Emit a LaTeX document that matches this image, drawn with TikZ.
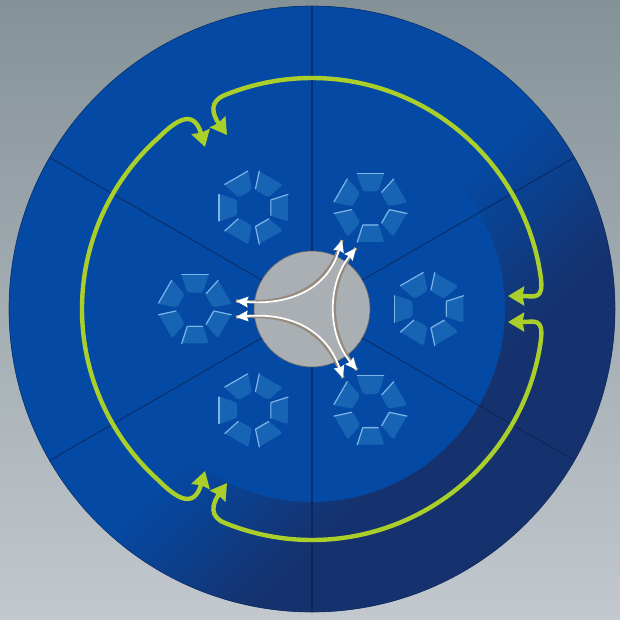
\documentclass[tikz,border=0pt]{standalone}
\usepackage{xcolor}
\usetikzlibrary{arrows.meta,positioning}
\usetikzlibrary{calc}

\definecolor{backtop}{RGB}{132,146,152}
\definecolor{backbottom}{RGB}{194,200,205}
\definecolor{diskblue}{RGB}{4,74,164}
\definecolor{ringdark}{RGB}{22,50,110}
\definecolor{spokedark}{RGB}{10,30,75}
\definecolor{padblue}{RGB}{24,100,180}
\definecolor{padhigh}{RGB}{125,180,232}
\definecolor{hubgray}{RGB}{170,175,180}
\definecolor{limegreen}{RGB}{170,207,42}
\definecolor{whiteedge}{RGB}{150,140,125}

\pgfdeclareverticalshading{ringshade}{100bp}{color(0bp)=(ringdark); color(36bp)=(ringdark); color(49bp)=(diskblue); color(100bp)=(diskblue)}

\newcommand{\padshape}[1]{\fill[padblue, rounded corners=1.5pt] (#1+25:18) -- (#1+22:37) -- (#1-22:37) -- (#1-25:18) -- cycle;}

\tikzset{
  spoke/.style={spokedark, line width=0.8pt, opacity=0.6},
  padlight/.style={padhigh, line width=0.9pt, line cap=round, line join=round},
  limearrow/.style={limegreen, line width=3.3pt, {Stealth[length=12pt,width=14pt,inset=1pt]}-{Stealth[length=12pt,width=14pt,inset=1pt]}},
  whitearrow/.style={white, line width=1.3pt, {Stealth[length=9pt,width=8pt,inset=1pt]}-{Stealth[length=9pt,width=8pt,inset=1pt]},
    preaction={draw=whiteedge, line width=2.5pt, -}},
  padringA/.pic={
    \padshape{90} \padshape{30} \padshape{150} \padshape{210} \padshape{-30} \padshape{-90}
    \draw[padlight] (90+21:37) -- (90-21:37);
    \draw[padlight] (30+24:19) -- (30+21:37);
    \draw[padlight] (150+21:37) -- (150-21:37);
    \draw[padlight] (210-24:19) -- (210-21:37);
    \draw[padlight] (-30+21:37) -- (-30+24:19) -- (-30-24:19);
    \draw[padlight] (-90-21:37) -- (-90-24:19) -- (-90+24:19);
  },
  padringB/.pic={
    \padshape{0} \padshape{60} \padshape{120} \padshape{180} \padshape{240} \padshape{300}
    \draw[padlight] (120+21:37) -- (120-21:37);
    \draw[padlight] (60+24:19) -- (60+21:37);
    \draw[padlight] (180+21:37) -- (180-21:37);
    \draw[padlight] (240-24:19) -- (240-21:37);
    \draw[padlight] (0+21:37) -- (0+24:19) -- (0-24:19);
    \draw[padlight] (300-21:37) -- (300-24:19) -- (300+24:19);
  }
}

\begin{document}
\begin{tikzpicture}[x=0.75pt, y=0.75pt]

% ==================
% Background
% ==================
\useasboundingbox (-312,-310) rectangle (308,309);
\shade[top color=backtop, bottom color=backbottom] (-312,-310) rectangle (308,309);

% ==================
% Disk and dark ring
% ==================
\fill[diskblue] (0,0) circle (303);
\shade[shading=ringshade, shading angle=45, even odd rule] (0,0) circle (303) (0,0) circle (193);
\draw[spokedark, line width=0.5pt, opacity=0.6] (0,0) circle (303);

% ==================
% Hub and spokes
% ==================
\node[circle, draw=black!60, line width=0.5pt, fill=hubgray, minimum size=87pt, inner sep=0pt, outer sep=0pt] (hub) at (0,0) {};

\coordinate (rimA) at (30:303);
\coordinate (rimB) at (90:303);
\coordinate (rimC) at (150:303);
\coordinate (rimD) at (210:303);
\coordinate (rimE) at (270:303);
\coordinate (rimF) at (330:303);

\draw[spoke] (hub.30) -- (rimA);
\draw[spoke] (hub.90) -- (rimB);
\draw[spoke] (hub.150) -- (rimC);
\draw[spoke] (hub.210) -- (rimD);
\draw[spoke] (hub.270) -- (rimE);
\draw[spoke] (hub.330) -- (rimF);

% ==================
% Pad rings
% ==================
\pic (ringE) at (0:117) {padringB};
\pic (ringNE) at (60:117) {padringA};
\pic (ringNW) at (120:117) {padringB};
\pic (ringW) at (180:117) {padringA};
\pic (ringSW) at (240:117) {padringB};
\pic (ringSE) at (300:117) {padringA};

% ==================
% Green arrows
% ==================
\coordinate (limeNa) at (-85,174);
\coordinate (limeNb) at (196,13);
\coordinate (limeSa) at (196,-13);
\coordinate (limeSb) at (-85,-174);
\coordinate (limeWa) at (-107,162);
\coordinate (limeWb) at (-107,-162);

\draw[limearrow] (limeNa) .. controls (-100,195) and (-103,208) .. (112:231)
  arc[start angle=112, end angle=8, radius=231]
  .. controls (232,8) and (222,13) .. (limeNb);
\draw[limearrow] (limeSa) .. controls (222,-13) and (232,-8) .. (-8:231)
  arc[start angle=-8, end angle=-112, radius=231]
  .. controls (-103,-208) and (-100,-195) .. (limeSb);
\draw[limearrow] (limeWa) .. controls (-118,200) and (-135,190) .. (132:230)
  arc[start angle=132, end angle=228, radius=230]
  .. controls (-135,-190) and (-118,-200) .. (limeWb);

% ==================
% White arrows
% ==================
\coordinate (whiteAa) at (-76,8);
\coordinate (whiteAb) at (30,69);
\coordinate (whiteBa) at (-76,-8);
\coordinate (whiteBb) at (31,-69);
\coordinate (whiteCa) at (44,61);
\coordinate (whiteCb) at (45,-61);

\draw[whitearrow] (whiteAa) .. controls (-30,4) and (14,15) .. (whiteAb);
\draw[whitearrow] (whiteBa) .. controls (-30,-4) and (12,-15) .. (whiteBb);
\draw[whitearrow] (whiteCa) .. controls (15,25) and (15,-25) .. (whiteCb);

\end{tikzpicture}
\end{document}
